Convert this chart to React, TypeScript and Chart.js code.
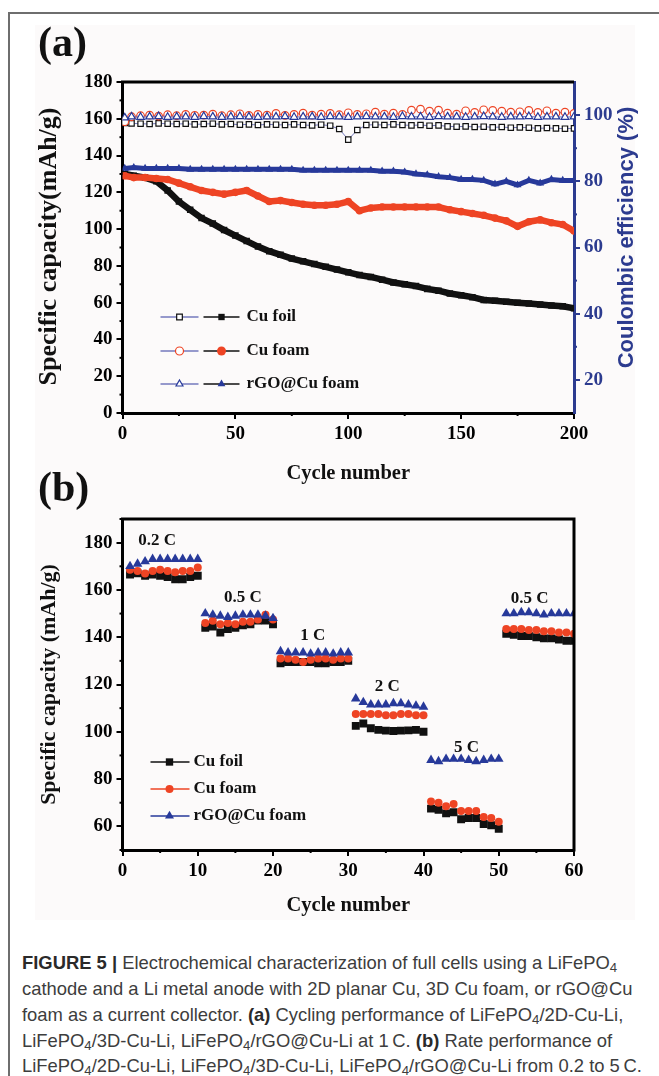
import React, { useEffect, useRef } from "react";
import { Chart, registerables } from "chart.js";

Chart.register(...registerables);

// ---------------- Panel (a): cycling at 1 C ----------------
const capCycles = [1, 5, 10, 15, 20, 25, 30, 35, 40, 45, 50, 55, 60, 65, 70, 75, 80, 85, 90, 95, 100, 105, 110, 115, 120, 125, 130, 135, 140, 145, 150, 155, 160, 165, 170, 175, 180, 185, 190, 195, 200];
const foilCapacity = [130, 129, 128, 126, 121, 115, 110.5, 106, 103, 99.5, 96.5, 93.5, 90.5, 88, 86, 84, 82.5, 81, 79.5, 78, 76.5, 75, 74, 72.5, 71, 70, 69, 67.5, 66.5, 65, 64, 63, 61.5, 61, 60.5, 60, 59.5, 59, 58.5, 58, 57];
const foamCapacity = [129, 128, 128, 127.5, 127, 125, 123, 121, 120, 119, 120, 121, 118, 115, 115.5, 114.5, 113.5, 113, 113, 113.5, 115, 110, 111.5, 112, 112, 112, 112, 112, 112, 110.5, 109.5, 108.5, 107.5, 106, 104.5, 101.5, 104, 105, 103.5, 102.5, 99];
const rgoCapacity = [133, 133.5, 133, 133, 133, 133, 132.5, 132.5, 132.5, 132.5, 132.5, 132.5, 132.5, 132.5, 132.5, 132.5, 132, 132, 132, 132, 132, 132, 132, 131.5, 131.5, 131, 130, 129.5, 128.5, 128, 127, 127, 126.5, 124.5, 126, 124, 126.5, 125, 127, 126.5, 126.5];

const ceCycles = [1, 4, 8, 12, 16, 20, 24, 28, 32, 36, 40, 44, 48, 52, 56, 60, 64, 68, 72, 76, 80, 84, 88, 92, 96, 100, 104, 108, 112, 116, 120, 124, 128, 132, 136, 140, 144, 148, 152, 156, 160, 164, 168, 172, 176, 180, 184, 188, 192, 196, 200];
const foilCE = [
  97.6, 97.5, 97.4, 97.3, 97.5, 97.4, 97.3, 97.4, 97.2, 97.3,
  97.4, 97.2, 97.3, 97.1, 97.2, 97.0, 97.2, 97.1, 97.0, 97.2,
  97.0, 96.9, 97.1, 96.8, 95.8, 92.6, 95.5, 97.0, 97.1, 97.0,
  97.2, 97.0, 96.9, 97.0, 96.8, 96.9, 96.6, 96.5, 96.6, 96.4,
  96.5, 96.3, 96.4, 96.2, 96.3, 96.2, 96.0, 96.1, 96.0, 95.9,
  96.0,
];
const foamCE = [
  98.0, 99.5, 99.8, 100.0, 99.7, 100.1, 99.8, 100.2, 99.9, 100.0,
  100.3, 99.8, 100.1, 100.4, 99.9, 100.2, 100.0, 100.5, 99.9, 100.2,
  100.6, 100.0, 100.3, 100.5, 100.1, 100.7, 100.2, 100.4, 100.9, 100.3,
  100.6, 100.2, 101.5, 101.8, 101.2, 101.5, 100.6, 100.3, 101.3, 100.8,
  101.6, 101.4, 101.2, 100.9, 101.0, 101.4, 100.8, 101.3, 100.6, 100.9,
  100.5,
];
const rgoCE = [
  99.2, 99.5, 99.4, 99.5, 99.6, 99.4, 99.5, 99.5, 99.4, 99.6,
  99.5, 99.4, 99.5, 99.6, 99.5, 99.4, 99.5, 99.5, 99.6, 99.4,
  99.5, 99.5, 99.4, 99.6, 99.5, 99.4, 99.5, 99.6, 99.5, 99.5,
  99.4, 99.6, 99.5, 99.5, 99.4, 99.6, 99.5, 99.5, 99.4, 99.5,
  99.6, 99.5, 99.4, 99.5, 99.5, 99.6, 99.4, 99.5, 99.5, 99.4,
  99.5,
];

const aXTicks = [0, 50, 100, 150, 200];
const aXMinor = [25, 75, 125, 175];
const aYTicks = [0, 20, 40, 60, 80, 100, 120, 140, 160, 180];
const aYMinor = [10, 30, 50, 70, 90, 110, 130, 150, 170];
const aY1Ticks = [20, 40, 60, 80, 100];
const aY1Minor = [30, 50, 70, 90];

// ---------------- Panel (b): rate performance ----------------
const rateCycles = [
  1, 2, 3, 4, 5, 6, 7, 8, 9, 10,
  11, 12, 13, 14, 15, 16, 17, 18, 19, 20,
  21, 22, 23, 24, 25, 26, 27, 28, 29, 30,
  31, 32, 33, 34, 35, 36, 37, 38, 39, 40,
  41, 42, 43, 44, 45, 46, 47, 48, 49, 50,
  51, 52, 53, 54, 55, 56, 57, 58, 59, 60,
];
const foilRate = [
  166.5, 167, 166, 166.5, 166, 165.5, 164.5, 164.5, 165.5, 166,
  144, 144.5, 142, 143.5, 144, 145, 145.5, 147, 147, 145.5,
  129, 129.5, 129.5, 129.5, 129.5, 129, 129, 129.5, 129.5, 130,
  102.5, 103.5, 101.5, 100.8, 100.5, 100.3, 100.5, 100.6, 100.8, 100,
  67.5, 67, 65.5, 66, 63, 63.5, 63.5, 61, 60.5, 59,
  141.5, 141, 140.5, 140.5, 140, 139.5, 139.5, 139, 138.5, 138.5,
];
const foamRate = [
  168.5, 168, 167, 168, 168.5, 168, 167.5, 168, 168, 169.5,
  146, 147, 145.5, 146, 145.5, 146.5, 146.5, 147.5, 149.5, 147.5,
  131, 131, 130.5, 129.5, 130.5, 131, 131, 130.5, 131, 131,
  107.5, 107.5, 107.5, 107.5, 107, 107, 107.5, 107.5, 107, 107,
  70.5, 70, 68.5, 69.5, 66.5, 66.5, 66.5, 64, 63.5, 62,
  143.5, 143.5, 143.5, 143, 143, 142.5, 142.5, 142, 142, 141.5,
];
const rgoRate = [
  170, 171, 172, 173, 173, 173, 173, 173, 173, 173,
  150, 149.5, 149, 148.5, 149, 149.5, 149.5, 149.5, 149, 148,
  134, 133.5, 133.5, 133.5, 133, 133.5, 133.5, 133, 133.5, 133.5,
  114, 112.5, 111.5, 111.5, 111.5, 112, 112, 111.5, 111, 110.5,
  88, 87.5, 88.5, 88.5, 88.5, 88, 87.5, 88, 88.5, 88.5,
  150, 150, 150.5, 150.5, 150, 149.5, 150, 150, 150, 150,
];
const rateLabels = ["0.2 C", "0.5 C", "1 C", "2 C", "5 C", "0.5 C"];
const rateLabelCycle = [4.6, 16, 25.3, 35.2, 45.7, 54.1];
const rateLabelCapacity = [180.7, 156.7, 140.7, 119, 93.3, 156.3];

const bXTicks = [0, 10, 20, 30, 40, 50, 60];
const bXMinor = [5, 15, 25, 35, 45, 55];
const bYTicks = [60, 80, 100, 120, 140, 160, 180];
const bYMinor = [50, 70, 90, 110, 130, 150, 170, 190];

const seriesNames = ["Cu foil", "Cu foam", "rGO@Cu foam"];

// ---------------- styles ----------------
const BLACK = "#111111";
const RED = "#ee4424";
const BLUE = "#27399a";
const AXIS_BLUE = "#2c3b8f";
const CE_LINE = "#7479bd";
const BG = "#fcfafa";
const SERIF = '"Liberation Serif", "Times New Roman", serif';
const SANS = '"Liberation Sans", Arial, sans-serif';
const STYLES = ["rect", "circle", "triangle"];
const COLORS = [BLACK, RED, BLUE];

function pts(xs: number[], ys: number[]) {
  return xs.map((x, i) => ({ x, y: ys[i] }));
}

function marker(ctx: CanvasRenderingContext2D, style: string, x: number, y: number, r: number, fill: string | null, stroke: string | null, lw: number) {
  ctx.beginPath();
  if (style === "rect") {
    const s = r * Math.SQRT1_2;
    ctx.rect(x - s, y - s, 2 * s, 2 * s);
  } else if (style === "circle") {
    ctx.arc(x, y, r, 0, Math.PI * 2);
  } else {
    ctx.moveTo(x, y - r);
    ctx.lineTo(x + r * 0.866, y + r / 2);
    ctx.lineTo(x - r * 0.866, y + r / 2);
    ctx.closePath();
  }
  if (fill) {
    ctx.fillStyle = fill;
    ctx.fill();
  }
  if (stroke) {
    ctx.strokeStyle = stroke;
    ctx.lineWidth = lw;
    ctx.stroke();
  }
}

function minorTicks(ctx: CanvasRenderingContext2D, scale: any, values: number[], color: string, len: number, side: string) {
  ctx.strokeStyle = color;
  ctx.lineWidth = 2;
  for (const v of values) {
    const p = scale.getPixelForValue(v);
    ctx.beginPath();
    if (side === "bottom") {
      ctx.moveTo(p, scale.top);
      ctx.lineTo(p, scale.top + len);
    } else if (side === "left") {
      ctx.moveTo(scale.right, p);
      ctx.lineTo(scale.right - len, p);
    } else {
      ctx.moveTo(scale.left, p);
      ctx.lineTo(scale.left + len, p);
    }
    ctx.stroke();
  }
}

function vText(ctx: CanvasRenderingContext2D, text: string, x: number, y: number, font: string, color: string) {
  ctx.save();
  ctx.translate(x, y);
  ctx.rotate(-Math.PI / 2);
  ctx.font = font;
  ctx.fillStyle = color;
  ctx.textAlign = "center";
  ctx.textBaseline = "middle";
  ctx.fillText(text, 0, 0);
  ctx.restore();
}

function hText(ctx: CanvasRenderingContext2D, text: string, x: number, y: number, font: string, color: string, align: CanvasTextAlign) {
  ctx.font = font;
  ctx.fillStyle = color;
  ctx.textAlign = align;
  ctx.textBaseline = "middle";
  ctx.fillText(text, x, y);
}

function tickFont() {
  return { family: SERIF, size: 19, weight: "bold" as const };
}

function fixedTicks(values: number[]) {
  return (s: any) => {
    s.ticks = values.map((v) => ({ value: v }));
  };
}

function axisCommon(color: string, values: number[]) {
  return {
    type: "linear" as const,
    afterBuildTicks: fixedTicks(values),
    ticks: { font: tickFont(), color, padding: 4, maxRotation: 0, autoSkip: false, callback: (v: any) => String(v) },
    grid: { display: true, drawOnChartArea: false, drawTicks: true, tickLength: 6, color, lineWidth: 2 },
    border: { display: true, color, width: 3 },
  };
}

const decorA = {
  id: "decorA",
  afterDraw(chart: any) {
    const { ctx, chartArea, scales } = chart;
    const { left, right, top, bottom } = chartArea;
    ctx.save();
    ctx.strokeStyle = "#000";
    ctx.lineWidth = 3;
    ctx.beginPath();
    ctx.moveTo(left - 1.5, top);
    ctx.lineTo(right, top);
    ctx.stroke();
    minorTicks(ctx, scales.x, aXMinor, "#000", 3, "bottom");
    minorTicks(ctx, scales.y, aYMinor, "#000", 3, "left");
    minorTicks(ctx, scales.y1, aY1Minor, AXIS_BLUE, 3, "right");

    hText(ctx, "(a)", 38, 45, `bold 42px ${SERIF}`, "#111", "left");
    vText(ctx, "Specific capacity(mAh/g)", 49, (top + bottom) / 2 - 1, `bold 26px ${SERIF}`, "#111");
    vText(ctx, "Coulombic efficiency (%)", 627, (top + bottom) / 2 - 10, `bold 22px ${SANS}`, AXIS_BLUE);
    hText(ctx, "Cycle number", (left + right) / 2, bottom + 61, `bold 20.5px ${SERIF}`, "#111", "center");

    const rows = [top + 235, top + 269, top + 302];
    rows.forEach((y, i) => {
      ctx.strokeStyle = CE_LINE;
      ctx.lineWidth = 1.3;
      ctx.beginPath();
      ctx.moveTo(left + 38, y);
      ctx.lineTo(left + 76, y);
      ctx.stroke();
      marker(ctx, STYLES[i], left + 57, y, 4, "#ffffff", COLORS[i], 1.2);
      ctx.strokeStyle = "#111";
      ctx.lineWidth = 1.5;
      ctx.beginPath();
      ctx.moveTo(left + 81, y);
      ctx.lineTo(left + 117, y);
      ctx.stroke();
      marker(ctx, STYLES[i], left + 99, y, 4.5, COLORS[i], null, 0);
      hText(ctx, seriesNames[i], left + 124, y, `bold 17px ${SERIF}`, "#111", "left");
    });
    ctx.restore();
  },
};

const decorB = {
  id: "decorB",
  afterDraw(chart: any) {
    const { ctx, chartArea, scales } = chart;
    const { left, right, top, bottom } = chartArea;
    ctx.save();
    ctx.strokeStyle = "#000";
    ctx.lineWidth = 3;
    ctx.beginPath();
    ctx.moveTo(left - 1.5, top);
    ctx.lineTo(right, top);
    ctx.lineTo(right, bottom + 1.5);
    ctx.stroke();
    minorTicks(ctx, scales.x, bXMinor, "#000", 3, "bottom");
    minorTicks(ctx, scales.y, bYMinor, "#000", 3, "left");

    hText(ctx, "(b)", 38, 30, `bold 42px ${SERIF}`, "#111", "left");
    vText(ctx, "Specific capacity (mAh/g)", 49, (top + bottom) / 2, `bold 22px ${SERIF}`, "#111");
    hText(ctx, "Cycle number", (left + right) / 2, bottom + 56, `bold 20.5px ${SERIF}`, "#111", "center");

    rateLabels.forEach((t, i) => {
      const x = scales.x.getPixelForValue(rateLabelCycle[i]);
      const y = scales.y.getPixelForValue(rateLabelCapacity[i]);
      hText(ctx, t, x, y, `bold 17px ${SERIF}`, "#111", "center");
    });

    const rows = [bottom - 88, bottom - 61, bottom - 34];
    rows.forEach((y, i) => {
      ctx.strokeStyle = COLORS[i];
      ctx.lineWidth = 1.5;
      ctx.beginPath();
      ctx.moveTo(left + 28, y);
      ctx.lineTo(left + 67, y);
      ctx.stroke();
      marker(ctx, STYLES[i], left + 47, y, i === 1 ? 4 : 5.2, COLORS[i], null, 0);
      hText(ctx, seriesNames[i], left + 71, y, `bold 17px ${SERIF}`, "#111", "left");
    });
    ctx.restore();
  },
};

export default function App() {
  const refA = useRef<HTMLCanvasElement>(null);
  const refB = useRef<HTMLCanvasElement>(null);

  useEffect(() => {
    const capDs = (data: number[], i: number) => ({
      data: pts(capCycles, data),
      showLine: true,
      borderColor: COLORS[i],
      borderWidth: i === 2 ? 5 : 6.5,
      backgroundColor: COLORS[i],
      pointStyle: STYLES[i],
      pointRadius: i === 1 ? 3.8 : 4.6,
      pointBorderWidth: 0,
      pointBackgroundColor: COLORS[i],
      yAxisID: "y",
    });
    const ceDs = (data: number[], i: number) => ({
      data: pts(ceCycles, data),
      showLine: true,
      borderColor: CE_LINE,
      borderWidth: 1,
      backgroundColor: "#ffffff",
      pointStyle: STYLES[i],
      pointRadius: i === 2 ? 4.4 : 3.8,
      pointBorderWidth: 1.2,
      pointBorderColor: COLORS[i],
      pointBackgroundColor: "#ffffff",
      yAxisID: "y1",
    });

    const chartA = new Chart(refA.current as HTMLCanvasElement, {
      type: "scatter",
      data: {
        datasets: [
          ceDs(rgoCE, 2),
          ceDs(foamCE, 1),
          ceDs(foilCE, 0),
          capDs(rgoCapacity, 2),
          capDs(foamCapacity, 1),
          capDs(foilCapacity, 0),
        ] as any,
      },
      options: {
        responsive: false,
        animation: false,
        events: [],
        layout: { padding: { top: 82, left: 0, right: 0, bottom: 0 } },
        plugins: { legend: { display: false }, tooltip: { enabled: false } },
        scales: {
          x: { ...axisCommon("#000", aXTicks), min: 0, max: 200, afterFit: (s: any) => { s.height = 77; } },
          y: { ...axisCommon("#000", aYTicks), position: "left", min: 0, max: 180, afterFit: (s: any) => { s.width = 122.5; } },
          y1: { ...axisCommon(AXIS_BLUE, aY1Ticks), position: "right", min: 10, max: 110, afterFit: (s: any) => { s.width = 85; } },
        } as any,
      },
      plugins: [decorA],
    });

    const rateDs = (data: number[], i: number) => ({
      data: pts(rateCycles, data),
      showLine: false,
      borderColor: COLORS[i],
      backgroundColor: COLORS[i],
      pointStyle: STYLES[i],
      pointRadius: i === 1 ? 4 : 5.6,
      pointBorderWidth: 0,
      pointBackgroundColor: COLORS[i],
    });

    const chartB = new Chart(refB.current as HTMLCanvasElement, {
      type: "scatter",
      data: {
        datasets: [rateDs(rgoRate, 2), rateDs(foamRate, 1), rateDs(foilRate, 0)] as any,
      },
      options: {
        responsive: false,
        animation: false,
        events: [],
        layout: { padding: { top: 59, left: 0, right: 85, bottom: 0 } },
        plugins: { legend: { display: false }, tooltip: { enabled: false } },
        scales: {
          x: { ...axisCommon("#000", bXTicks), min: 0, max: 60, afterFit: (s: any) => { s.height = 70; } },
          y: { ...axisCommon("#000", bYTicks), position: "left", min: 50, max: 190, afterFit: (s: any) => { s.width = 122.5; } },
        } as any,
      },
      plugins: [decorB],
    });

    return () => {
      chartA.destroy();
      chartB.destroy();
    };
  }, []);

  const sub = { fontSize: "0.72em", verticalAlign: "-0.25em", lineHeight: 0 } as React.CSSProperties;
  const line = (center: number): React.CSSProperties => ({
    position: "absolute",
    left: 22,
    top: center - 11,
    whiteSpace: "nowrap",
    fontFamily: SANS,
    fontSize: 18.4,
    lineHeight: "22px",
    color: "#3d3d3d",
  });
  const b = { fontWeight: 700, color: "#2a2a2a" } as React.CSSProperties;

  return (
    <div style={{ position: "absolute", left: 0, top: 0, width: 659, height: 1076, overflow: "hidden", background: "#ffffff" }}>
      <div style={{ position: "absolute", left: 8, top: 12, width: 700, height: 1100, borderTop: "2px solid #6e6e6e", borderLeft: "2px solid #6e6e6e" }} />
      <div style={{ position: "absolute", left: 35, top: 25, width: 600, height: 895, background: BG }} />
      <canvas ref={refA} width={659} height={490} style={{ position: "absolute", left: 0, top: 0 }} />
      <canvas ref={refB} width={659} height={460} style={{ position: "absolute", left: 0, top: 460 }} />
      <div style={line(963)}>
        <span style={b}>FIGURE 5 |</span> Electrochemical characterization of full cells using a LiFePO<span style={sub}>4</span>
      </div>
      <div style={line(989)}>cathode and a Li metal anode with 2D planar Cu, 3D Cu foam, or rGO@Cu</div>
      <div style={line(1015)}>
        foam as a current collector. <span style={b}>(a)</span> Cycling performance of LiFePO<span style={sub}>4</span>/2D-Cu-Li,
      </div>
      <div style={line(1041)}>
        LiFePO<span style={sub}>4</span>/3D-Cu-Li, LiFePO<span style={sub}>4</span>/rGO@Cu-Li at 1{"\u2009"}C. <span style={b}>(b)</span> Rate performance of
      </div>
      <div style={line(1066)}>
        LiFePO<span style={sub}>4</span>/2D-Cu-Li, LiFePO<span style={sub}>4</span>/3D-Cu-Li, LiFePO<span style={sub}>4</span>/rGO@Cu-Li from 0.2 to 5{"\u2009"}C.
      </div>
    </div>
  );
}
